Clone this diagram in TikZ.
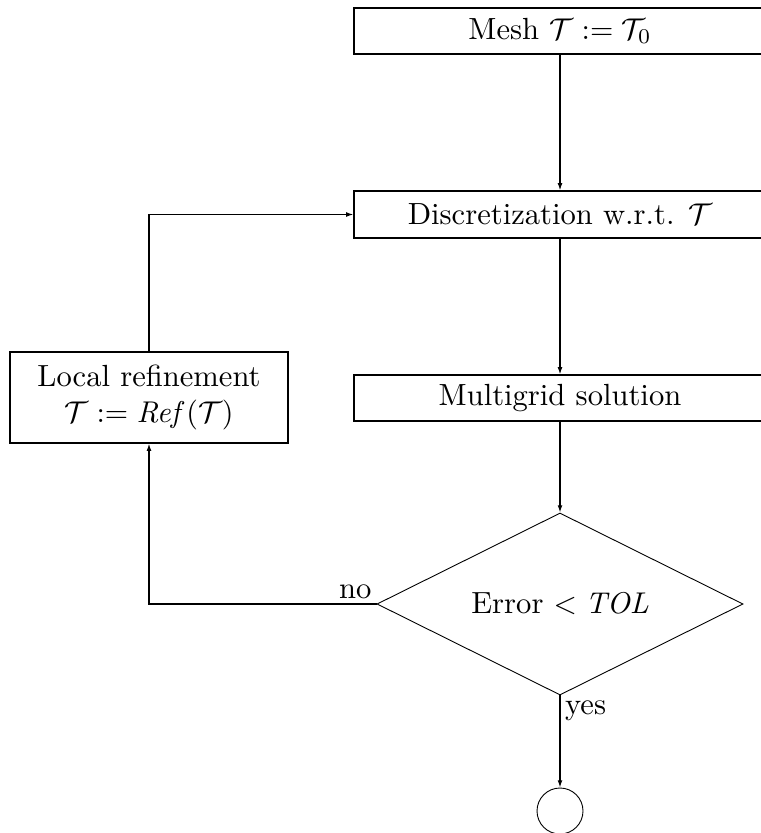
\documentclass[tikz,border=0pt]{standalone}
\usetikzlibrary{shapes.geometric,arrows.meta}
\begin{document}
\begin{tikzpicture}[x=0.3333pt, y=-0.3333pt, line width=0.4pt,
  font=\fontsize{10.2}{12}\selectfont,
  box/.style={draw, rectangle, minimum width=137.33pt, minimum height=15.33pt, inner sep=0pt},
  decision/.style={draw, diamond, aspect=2.01, minimum width=122pt, minimum height=60.67pt, inner sep=0pt, line width=0.3pt},
  arr/.style={-{Latex[length=2.4pt,width=1.6pt]}},
  lbl/.style={inner sep=1.5pt}]
\useasboundingbox (0,0) rectangle (761,833);
\clip (0,0) rectangle (761,833);
\node[box] (mesh) at (560,31) {Mesh $\mathcal{T} := \mathcal{T}_0$};
\node[box, minimum height=15.67pt] (disc) at (560,214.5) {Discretization w.r.t. $\mathcal{T}$};
\node[box] (multi) at (560,398) {Multigrid solution};
\node[draw, rectangle, minimum width=92.67pt, minimum height=30.33pt, inner sep=0pt, align=center] (ref) at (149,397.5) {Local refinement\\$\mathcal{T} := \mathit{Ref}(\mathcal{T})$};
\node[decision] (err) at (560,604) {Error $< \mathit{TOL}$};
\node[draw, circle, minimum size=15.33pt, inner sep=0pt, line width=0.3pt] (stop) at (560,811) {};
\draw[arr] (mesh) -- (disc);
\draw[arr] (disc) -- (multi);
\draw[arr] (multi) -- (err.north);
\draw[arr] (err.south) -- (stop.north);
\node[lbl, anchor=north west] (yes) at (err.south) {yes};
\node[lbl, anchor=south east] (no) at (err.west) {no};
\draw[arr] (err.west) -| (ref.south);
\draw[arr] (ref.north) |- (disc.west);
\end{tikzpicture}
\end{document}
